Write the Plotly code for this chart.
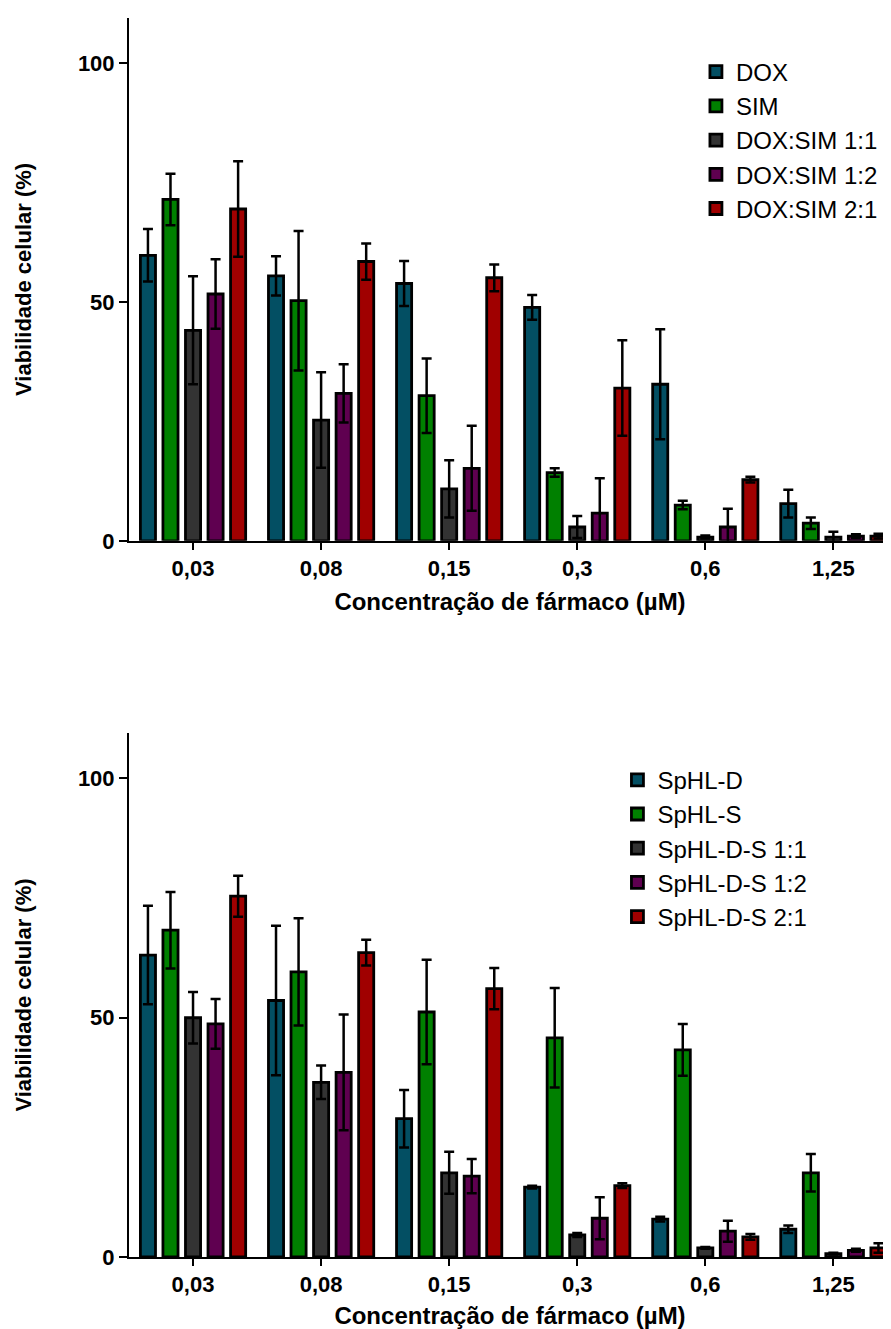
import plotly.graph_objects as go

categories = ["0,03", "0,08", "0,15", "0,3", "0,6", "1,25"]

# Top panel (free drugs)
top_names = ["DOX", "SIM", "DOX:SIM 1:1", "DOX:SIM 1:2", "DOX:SIM 2:1"]
top_dox = [59.8, 55.5, 53.9, 48.9, 32.8, 7.8]
top_dox_err = [5.5, 4.1, 4.7, 2.6, 11.5, 2.9]
top_sim = [71.5, 50.3, 30.4, 14.3, 7.5, 3.7]
top_sim_err = [5.4, 14.6, 7.8, 0.9, 0.9, 1.2]
top_11 = [44.1, 25.3, 10.9, 2.9, 0.8, 0.8]
top_11_err = [11.3, 10.0, 6.0, 2.3, 0.3, 1.1]
top_12 = [51.7, 30.9, 15.2, 5.8, 2.9, 1.0]
top_12_err = [7.3, 6.1, 8.9, 7.3, 3.8, 0.4]
top_21 = [69.5, 58.5, 55.1, 32.0, 12.8, 1.0]
top_21_err = [10.0, 3.8, 2.8, 10.0, 0.6, 0.5]

# Bottom panel (liposomes)
bot_names = ["SpHL-D", "SpHL-S", "SpHL-D-S 1:1", "SpHL-D-S 1:2", "SpHL-D-S 2:1"]
bot_d = [63.1, 53.6, 28.9, 14.6, 7.9, 5.8]
bot_d_err = [10.3, 15.6, 6.0, 0.3, 0.5, 0.8]
bot_s = [68.3, 59.6, 51.2, 45.8, 43.3, 17.6]
bot_s_err = [8.0, 11.2, 10.9, 10.4, 5.4, 3.9]
bot_11 = [50.0, 36.5, 17.6, 4.6, 1.9, 0.7]
bot_11_err = [5.4, 3.5, 4.4, 0.4, 0.2, 0.2]
bot_12 = [48.7, 38.6, 16.9, 8.1, 5.4, 1.4]
bot_12_err = [5.2, 12.1, 3.6, 4.4, 2.2, 0.3]
bot_21 = [75.4, 63.6, 56.1, 14.9, 4.2, 1.9]
bot_21_err = [4.3, 2.7, 4.3, 0.5, 0.6, 1.0]

colors = ["#034f63", "#008000", "#333333", "#5f0050", "#a00000"]

FONT = "Arial, Liberation Sans, sans-serif"

fig = go.Figure()

top_vals = [(top_dox, top_dox_err), (top_sim, top_sim_err), (top_11, top_11_err),
            (top_12, top_12_err), (top_21, top_21_err)]
bot_vals = [(bot_d, bot_d_err), (bot_s, bot_s_err), (bot_11, bot_11_err),
            (bot_12, bot_12_err), (bot_21, bot_21_err)]

for i, (name, (v, e)) in enumerate(zip(top_names, top_vals)):
    fig.add_trace(go.Bar(
        x=categories, y=v, name=name, xaxis="x", yaxis="y",
        marker=dict(color=colors[i], line=dict(color="black", width=2.8)),
        error_y=dict(type="data", array=e, color="black", thickness=2.5, width=5),
        legend="legend", legendgroup="t%d" % i, offsetgroup=str(i),
    ))

for i, (name, (v, e)) in enumerate(zip(bot_names, bot_vals)):
    fig.add_trace(go.Bar(
        x=categories, y=v, name=name, xaxis="x2", yaxis="y2",
        marker=dict(color=colors[i], line=dict(color="black", width=2.8)),
        error_y=dict(type="data", array=e, color="black", thickness=2.5, width=5),
        legend="legend2", legendgroup="b%d" % i, offsetgroup=str(i),
    ))

axis_common = dict(showline=True, linecolor="black", linewidth=2, showgrid=False,
                   zeroline=False, ticks="outside", tickcolor="black", tickwidth=2,
                   automargin=False,
                   tickfont=dict(family=FONT, size=22, color="black", weight="bold"))

xcommon = dict(axis_common, ticklen=7, range=[-0.5, 5.45], type="category",
               title=dict(text="Concentração de fármaco (µM)",
                          font=dict(family=FONT, size=24, color="black", weight="bold"),
                          standoff=13))
ycommon = dict(axis_common, ticklen=8, range=[0, 109.5], tickvals=[0, 50, 100],
               title=dict(text="Viabilidade celular (%)",
                          font=dict(family=FONT, size=22, color="black", weight="bold"),
                          standoff=40))

top_dom = [0.578, 1.0]
bot_dom = [0.0, 0.4229]

fig.update_layout(
    width=883, height=1321,
    margin=dict(l=121, r=0, t=10, b=72),
    paper_bgcolor="white", plot_bgcolor="white",
    barmode="group", bargap=0.12, bargroupgap=0.33,
    xaxis=dict(xcommon, domain=[0, 1], anchor="y"),
    yaxis=dict(ycommon, domain=top_dom, anchor="x"),
    xaxis2=dict(xcommon, domain=[0, 1], anchor="y2"),
    yaxis2=dict(ycommon, domain=bot_dom, anchor="x2"),
    legend=dict(x=0.744, y=0.9745, xanchor="left", yanchor="top",
                font=dict(family=FONT, size=24, color="black"),
                traceorder="grouped", tracegroupgap=0, bgcolor="rgba(0,0,0,0)"),
    legend2=dict(x=0.641, y=0.403, xanchor="left", yanchor="top",
                 font=dict(family=FONT, size=24, color="black"),
                 traceorder="grouped", tracegroupgap=0, bgcolor="rgba(0,0,0,0)"),
    showlegend=True,
)

fig.write_html("out.html")
